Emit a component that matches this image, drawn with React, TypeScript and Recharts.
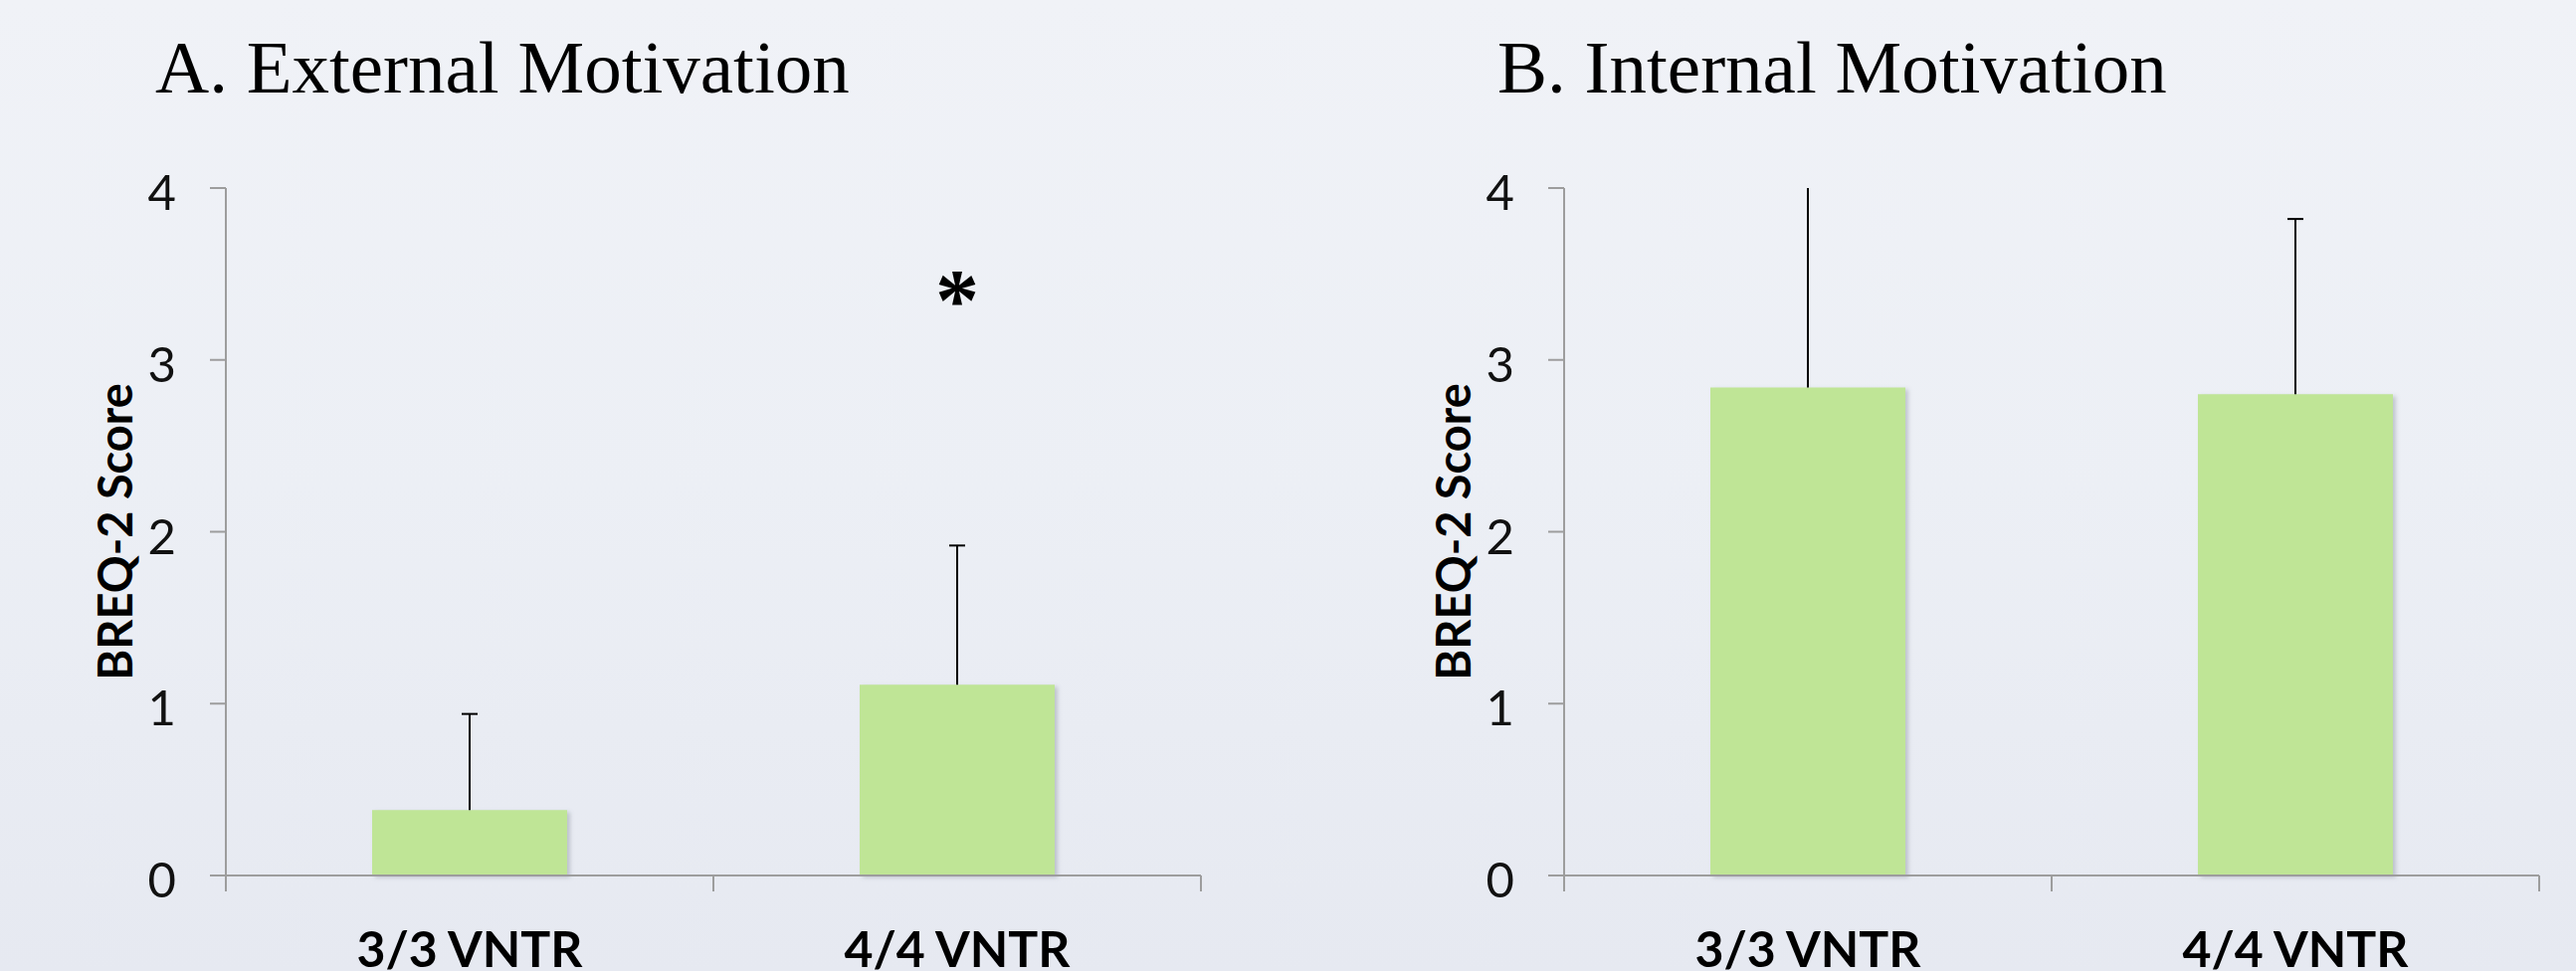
import { BarChart, Bar, XAxis, YAxis, ReferenceDot } from 'recharts'

const genotypes = ['3/3 VNTR', '4/4 VNTR']

const externalMeans = [0.38, 1.11]
const externalErrors = [0.56, 0.81]
const externalCaps = [true, true]

const internalMeans = [2.84, 2.8]
const internalErrors = [1.16, 1.02]
const internalCaps = [false, true]

const yTicks = [0, 1, 2, 3, 4]
const sigCategory = '4/4 VNTR'
const sigLevel = 3.36

const AXIS = '#9d9d9d'
const BAR = '#bfe596'

const externalData = genotypes.map((g, i) => ({
  genotype: g,
  mean: externalMeans[i],
  err: externalErrors[i],
  cap: externalCaps[i],
}))

const internalData = genotypes.map((g, i) => ({
  genotype: g,
  mean: internalMeans[i],
  err: internalErrors[i],
  cap: internalCaps[i],
}))

// error whisker drawn as the stacked segment on top of each bar
function ErrorShape(props: any) {
  const { x, y, width, height, payload } = props
  if (x == null || y == null) return null
  const cx = x + width / 2
  return (
    <g>
      <line x1={cx} x2={cx} y1={y + height} y2={y} stroke="#000" strokeWidth={2} />
      {payload.cap && <line x1={cx - 8} x2={cx + 8} y1={y} y2={y} stroke="#000" strokeWidth={2} />}
    </g>
  )
}

// category label plus Excel-style tick marks on the category boundaries
function CategoryTick(props: any) {
  const { x, y, payload, index, width, visibleTicksCount } = props
  const half = width && visibleTicksCount ? width / visibleTicksCount / 2 : payload.offset || 0
  return (
    <g>
      <line x1={x - half} x2={x - half} y1={y} y2={y + 16} stroke={AXIS} strokeWidth={2} />
      {index === visibleTicksCount - 1 && (
        <line x1={x + half} x2={x + half} y1={y} y2={y + 16} stroke={AXIS} strokeWidth={2} />
      )}
      <text x={x} y={y + 92} textAnchor="middle" fontFamily="Lato" fontWeight={700} fontSize={50} fill="#000">
        {payload.value}
      </text>
    </g>
  )
}

function ValueTick(props: any) {
  const { x, y, payload } = props
  return (
    <text x={x} y={y + 22} textAnchor="end" fontFamily="Lato" fontSize={49} fill="#111">
      {payload.value}
    </text>
  )
}

function ScoreLabel(props: any) {
  const { viewBox } = props
  const cx = viewBox.x - 12
  const cy = viewBox.y + viewBox.height / 2
  return (
    <text
      x={cx}
      y={cy}
      transform={`rotate(-90 ${cx} ${cy})`}
      textAnchor="middle"
      dominantBaseline="central"
      fontFamily="Lato"
      fontWeight={700}
      fontSize={47}
      fill="#000"
    >
      BREQ-2 Score
    </text>
  )
}

interface PanelProps {
  id: string
  data: Array<{ genotype: string; mean: number; err: number; cap: boolean }>
  width: number
  marginLeft: number
  marginRight: number
  showSig?: boolean
}

function Panel({ id, data, width, marginLeft, marginRight, showSig = false }: PanelProps) {
  return (
    <BarChart
      width={width}
      height={976}
      data={data}
      margin={{ top: 189, right: marginRight, left: marginLeft, bottom: 0 }}
      barCategoryGap="30%"
    >
      <defs>
        <filter id={`shadow-${id}`} x="-10%" y="-10%" width="130%" height="130%">
          <feDropShadow dx="3" dy="2" stdDeviation="2" floodColor="#6f7584" floodOpacity="0.35" />
        </filter>
      </defs>
      <XAxis
        dataKey="genotype"
        height={96}
        interval={0}
        tickLine={false}
        tickSize={0}
        tickMargin={0}
        axisLine={{ stroke: AXIS, strokeWidth: 2 }}
        tick={<CategoryTick />}
      />
      <YAxis
        width={100}
        domain={[0, 4]}
        ticks={yTicks}
        interval={0}
        tickSize={16}
        tickMargin={34}
        axisLine={{ stroke: AXIS, strokeWidth: 2 }}
        tickLine={{ stroke: AXIS, strokeWidth: 2 }}
        tick={<ValueTick />}
        label={<ScoreLabel />}
      />
      <Bar dataKey="mean" stackId="s" fill={BAR} filter={`url(#shadow-${id})`} isAnimationActive={false} />
      <Bar dataKey="err" stackId="s" fill="none" shape={ErrorShape} isAnimationActive={false} />
      {showSig && (
        <ReferenceDot
          x={sigCategory}
          y={sigLevel}
          r={0}
          fill="none"
          stroke="none"
          label={{
            value: '*',
            position: 'center',
            fontFamily: 'Liberation Serif',
            fontWeight: 700,
            fontSize: 88,
            fill: '#000',
          }}
        />
      )}
    </BarChart>
  )
}

const titleStyle: React.CSSProperties = {
  position: 'absolute',
  top: 30,
  fontFamily: '"Liberation Serif", "Times New Roman", serif',
  fontSize: 75,
  lineHeight: '75px',
  color: '#000',
  whiteSpace: 'nowrap',
}

export default function App() {
  return (
    <div
      style={{
        position: 'fixed',
        left: 0,
        top: 0,
        width: 2589,
        height: 976,
        overflow: 'hidden',
        background: 'linear-gradient(to bottom, #f0f2f7 0%, #eceff5 50%, #e6e9f1 100%)',
      }}
    >
      <div style={{ ...titleStyle, left: 156 }}>A. External Motivation</div>
      <div style={{ ...titleStyle, left: 1505 }}>B. Internal Motivation</div>
      <div style={{ position: 'absolute', left: 0, top: 0 }}>
        <Panel id="a" data={externalData} width={1300} marginLeft={127} marginRight={93} showSig />
      </div>
      <div style={{ position: 'absolute', left: 1300, top: 0 }}>
        <Panel id="b" data={internalData} width={1289} marginLeft={172} marginRight={37} />
      </div>
    </div>
  )
}
